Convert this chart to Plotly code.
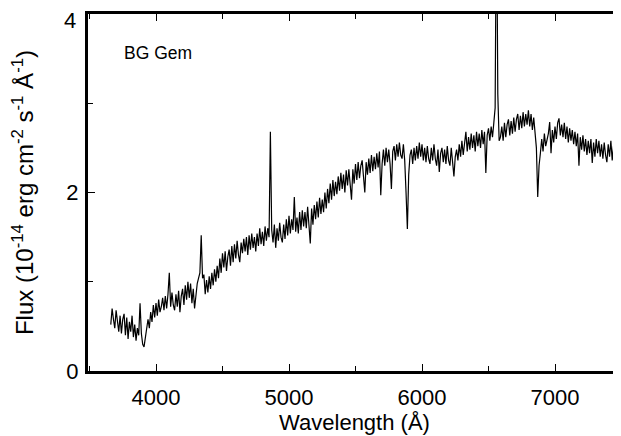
import plotly.graph_objects as go

wl_start, wl_stop, wl_step = 3660, 7500, 10
wavelength = list(range(wl_start, wl_stop + 1, wl_step))

flux = [
    0.52, 0.70, 0.58, 0.48, 0.68, 0.55, 0.44, 0.62, 0.42, 0.58,  # 3660
    0.64, 0.40, 0.60, 0.36, 0.55, 0.44, 0.62, 0.38, 0.52, 0.34,  # 3760
    0.48, 0.40, 0.76, 0.42, 0.30, 0.27, 0.38, 0.52, 0.58, 0.48,  # 3860
    0.66, 0.55, 0.74, 0.60, 0.76, 0.62, 0.80, 0.66, 0.72, 0.82,  # 3960
    0.68, 0.84, 0.70, 0.86, 1.10, 0.72, 0.88, 0.74, 0.68, 0.86,  # 4060
    0.72, 0.90, 0.66, 0.84, 0.92, 0.74, 0.96, 0.80, 1.00, 0.82,  # 4160
    0.98, 0.76, 0.92, 0.70, 0.86, 0.98, 1.04, 1.10, 1.52, 1.04,  # 4260
    1.08, 0.86, 1.02, 0.88, 1.06, 0.92, 1.10, 0.96, 1.14, 1.00,  # 4360
    1.18, 1.04, 1.26, 1.10, 1.32, 1.16, 1.34, 1.12, 1.28, 1.36,  # 4460
    1.18, 1.40, 1.22, 1.42, 1.26, 1.46, 1.30, 1.22, 1.44, 1.32,  # 4560
    1.48, 1.34, 1.50, 1.30, 1.52, 1.36, 1.54, 1.38, 1.50, 1.34,  # 4660
    1.54, 1.40, 1.60, 1.42, 1.56, 1.40, 1.62, 1.46, 1.60, 1.50,  # 4760
    2.68, 1.58, 1.44, 1.64, 1.38, 1.60, 1.46, 1.66, 1.50, 1.44,  # 4860
    1.64, 1.48, 1.70, 1.52, 1.74, 1.54, 1.70, 1.58, 1.95, 1.56,  # 4960
    1.72, 1.54, 1.78, 1.58, 1.80, 1.62, 1.78, 1.60, 1.84, 1.66,  # 5060
    1.43, 1.82, 1.64, 1.86, 1.70, 1.90, 1.72, 1.94, 1.76, 1.92,  # 5160
    1.78, 2.00, 1.82, 2.04, 1.88, 2.10, 1.92, 2.14, 1.96, 2.12,  # 5260
    1.98, 2.18, 2.02, 2.22, 2.04, 2.20, 2.00, 2.25, 2.08, 2.26,  # 5360
    2.06, 1.92, 2.26, 2.10, 2.32, 2.14, 2.34, 2.16, 2.30, 2.36,  # 5460
    2.18, 2.00, 2.34, 2.20, 2.38, 2.22, 2.42, 2.24, 2.40, 2.26,  # 5560
    2.44, 2.28, 2.46, 1.97, 2.32, 2.48, 2.30, 2.50, 2.34, 2.48,  # 5660
    2.32, 2.04, 2.46, 2.52, 2.36, 2.54, 2.40, 2.56, 2.42, 2.38,  # 5760
    2.54, 2.36, 2.00, 1.59, 2.20, 2.42, 2.48, 2.32, 2.50, 2.36,  # 5860
    2.52, 2.38, 2.56, 2.40, 2.54, 2.36, 2.50, 2.34, 2.52, 2.38,  # 5960
    2.32, 2.50, 2.36, 2.54, 2.38, 2.30, 2.48, 2.23, 2.44, 2.50,  # 6060
    2.34, 2.48, 2.32, 2.52, 2.36, 2.30, 2.50, 2.34, 2.18, 2.40,  # 6160
    2.48, 2.36, 2.54, 2.40, 2.58, 2.42, 2.56, 2.68, 2.46, 2.62,  # 6260
    2.48, 2.66, 2.50, 2.64, 2.46, 2.68, 2.52, 2.66, 2.50, 2.70,  # 6360
    2.54, 2.68, 2.22, 2.64, 2.72, 2.58, 2.74, 2.62, 2.78, 2.95,  # 6460
    5.50, 3.10, 2.58, 2.62, 2.74, 2.58, 2.78, 2.62, 2.76, 2.82,  # 6560
    2.64, 2.80, 2.66, 2.84, 2.68, 2.82, 2.88, 2.70, 2.86, 2.72,  # 6660
    2.90, 2.74, 2.88, 2.76, 2.92, 2.74, 2.88, 2.70, 2.84, 2.66,  # 6760
    2.50, 1.95, 2.30, 2.44, 2.60, 2.46, 2.66, 2.52, 2.58, 2.66,  # 6860
    2.79, 2.44, 2.70, 2.56, 2.74, 2.60, 2.78, 2.83, 2.64, 2.76,  # 6960
    2.62, 2.78, 2.60, 2.74, 2.56, 2.72, 2.58, 2.70, 2.54, 2.68,  # 7060
    2.52, 2.66, 2.30, 2.62, 2.48, 2.64, 2.46, 2.60, 2.42, 2.58,  # 7160
    2.44, 2.60, 2.33, 2.56, 2.40, 2.60, 2.44, 2.58, 2.40, 2.54,  # 7260
    2.38, 2.56, 2.42, 2.34, 2.54, 2.40, 2.58, 2.36, 2.52, 2.38,  # 7360
    2.54, 2.36, 2.50, 2.34, 2.48,                                # 7460
]

x_range = [3488.7, 7496.2]
y_range = [0, 4]
x_ticks = [4000, 5000, 6000, 7000]
y_ticks = [0, 2, 4]
y_ticktext = ["0", "2", ""]   # top label "4" placed as annotation (nudged inside like the reference)
y_top_label = "4"
x_title = "Wavelength (Å)"
y_title = "Flux (10<sup>-14</sup> erg cm<sup>-2</sup> s<sup>-1</sup> Å<sup>-1</sup>)"
label = "BG Gem"

font = "Liberation Sans, Arial, Helvetica, sans-serif"

# page body has an 8 px offset; plot frame should land at x 88..621, y 14..371 on screen
OFF = 8
L, T, B_SCR = 88 - OFF, 14 - OFF, 371 - OFF
PW, PH = 533, 357

fig = go.Figure()
fig.add_trace(go.Scatter(
    x=wavelength, y=flux, mode="lines",
    line=dict(color="black", width=1.2),
    showlegend=False, hoverinfo="skip",
))

axis_common = dict(
    showgrid=False, zeroline=False, showline=True, linecolor="black",
    linewidth=3, mirror="ticks", ticks="inside", tickcolor="black",
    ticklen=7, tickwidth=1.2, automargin=False,
    tickfont=dict(family=font, size=22, color="black"),
)

fig.update_xaxes(
    range=x_range, tickvals=x_ticks, ticktext=[str(v) for v in x_ticks],
    minor=dict(dtick=500, tick0=0, ticks="inside", ticklen=5, tickcolor="black", tickwidth=1),
    title=dict(text=x_title, font=dict(family=font, size=22, color="black"), standoff=5),
    ticklabelstandoff=5,
    **axis_common,
)
fig.update_yaxes(
    range=y_range, tickvals=y_ticks, ticktext=y_ticktext,
    minor=dict(dtick=1, tick0=0, ticks="inside", ticklen=5, tickcolor="black", tickwidth=1),
    title=dict(text=y_title, font=dict(family=font, size=24, color="black"), standoff=26),
    ticklabelstandoff=2,
    **axis_common,
)

fig.add_annotation(
    text=y_top_label, xref="paper", yref="paper",
    x=(78 - 88) / PW, y=(371 - 20) / PH,
    xanchor="right", yanchor="middle", showarrow=False,
    font=dict(family=font, size=22, color="black"),
)

fig.add_annotation(
    text=label, xref="paper", yref="paper", x=(122 - 88) / PW, y=(371 - 53) / PH,
    xanchor="left", yanchor="middle", showarrow=False,
    font=dict(family=font, size=17.5, color="black"),
)

fig.update_layout(
    width=621, height=436,
    margin=dict(l=L, r=OFF, t=T, b=436 - B_SCR),
    paper_bgcolor="white", plot_bgcolor="white",
)

fig.write_html("out.html")
